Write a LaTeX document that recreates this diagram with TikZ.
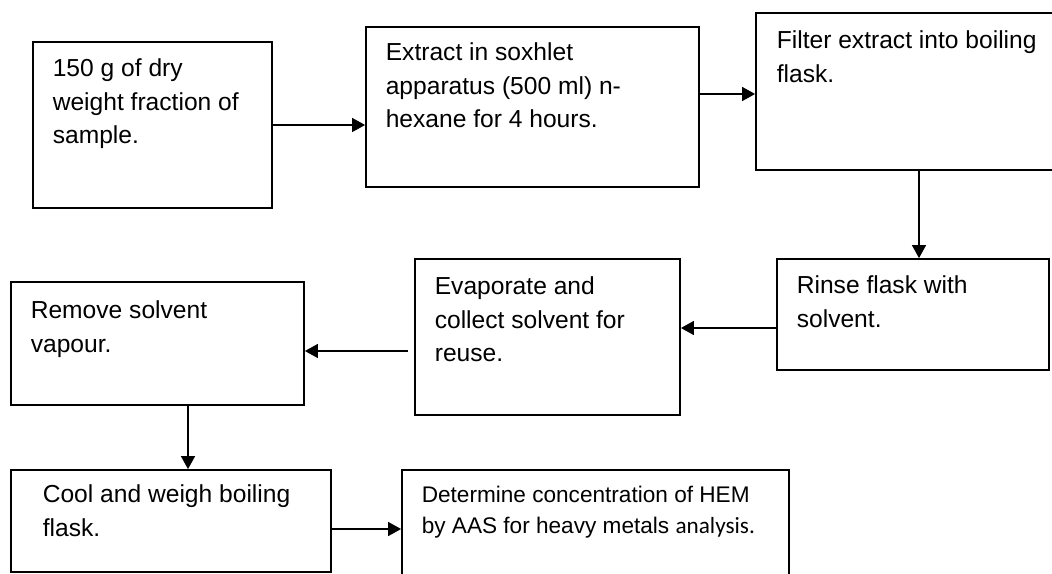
\documentclass[tikz,border=0pt]{standalone}
\usepackage{fontspec}
\setmainfont{Liberation Sans}
\newfontfamily\calibfont{Carlito}
\usetikzlibrary{arrows.meta}
\tikzset{stepbox/.style={draw,line width=0.9pt,inner sep=0pt},
steptext/.style={anchor=north west,inner sep=0pt,align=left,font=\fontsize{12.3}{16.75}\selectfont},
smalltext/.style={steptext,font=\fontsize{11.3}{15.5}\selectfont}}
\begin{document}
\begin{tikzpicture}[x=0.5pt,y=-0.5pt,>={Triangle[length=6.5pt,width=7pt]},line width=0.7pt]
\useasboundingbox (0,0) rectangle (1052,573);
\clip (0,0) rectangle (1052,573);
\node[stepbox,minimum width=119.5pt,minimum height=83pt] (sample) at (152.5,125) {};
\node[stepbox,minimum width=166.5pt,minimum height=80pt] (extract) at (532.5,107) {};
\node[stepbox,minimum width=157pt,minimum height=78.5pt] (filter) at (913,91.5) {};
\node[stepbox,minimum width=136pt,minimum height=55.5pt] (rinse) at (913,314.5) {};
\node[stepbox,minimum width=132.5pt,minimum height=78pt] (evap) at (547.5,337) {};
\node[stepbox,minimum width=146.5pt,minimum height=61.5pt] (remove) at (157.5,343.5) {};
\node[stepbox,minimum width=160pt,minimum height=51pt] (cool) at (171,521) {};
\node[stepbox,minimum width=193.5pt,minimum height=70pt] (determine) at (595.5,540) {};
\node[steptext] (sample-t) at ([xshift=10pt,yshift=-8.5pt]sample.north west) {150 g of dry\\weight fraction of\\sample.};
\node[steptext] (extract-t) at ([xshift=10pt,yshift=-8pt]extract.north west) {Extract in soxhlet\\apparatus (500 ml) n-\\hexane for 4 hours.};
\node[steptext] (filter-t) at ([xshift=10.5pt,yshift=-9pt]filter.north west) {Filter extract into boiling\\flask.};
\node[steptext] (rinse-t) at ([xshift=10pt,yshift=-8.5pt]rinse.north west) {Rinse flask with\\solvent.};
\node[steptext] (evap-t) at ([xshift=10pt,yshift=-9pt]evap.north west) {Evaporate and\\collect solvent for\\reuse.};
\node[steptext] (remove-t) at ([xshift=10pt,yshift=-9.5pt]remove.north west) {Remove solvent\\vapour.};
\node[steptext] (cool-t) at ([xshift=16pt,yshift=-7.5pt]cool.north west) {Cool and weigh boiling\\flask.};
\node[smalltext] (determine-t) at ([xshift=10pt,yshift=-8pt]determine.north west) {Determine concentration of HEM\\by AAS for heavy metals {\calibfont\fontsize{11.6}{15.5}\selectfont analysis.}};
\coordinate (evapout) at (408,351);
\draw[->] (sample.east) -- (sample.east -| extract.west);
\draw[->] ([yshift=-1.25pt]filter.west -| extract.east) -- ([yshift=-1.25pt]filter.west);
\draw[->] ([xshift=3pt]filter.south) -- ([xshift=3pt]rinse.north);
\draw[->] ([yshift=-6.75pt]rinse.west) -- ([yshift=-6.75pt]rinse.west -| evap.east);
\draw[->] (evapout) -- (evapout -| remove.east);
\draw[->] ([xshift=15.25pt]remove.south) -- ([xshift=15.25pt]remove.south |- cool.north);
\draw[->] ([yshift=-4pt]cool.east) -- ([yshift=-4pt]cool.east -| determine.west);
\end{tikzpicture}
\end{document}
